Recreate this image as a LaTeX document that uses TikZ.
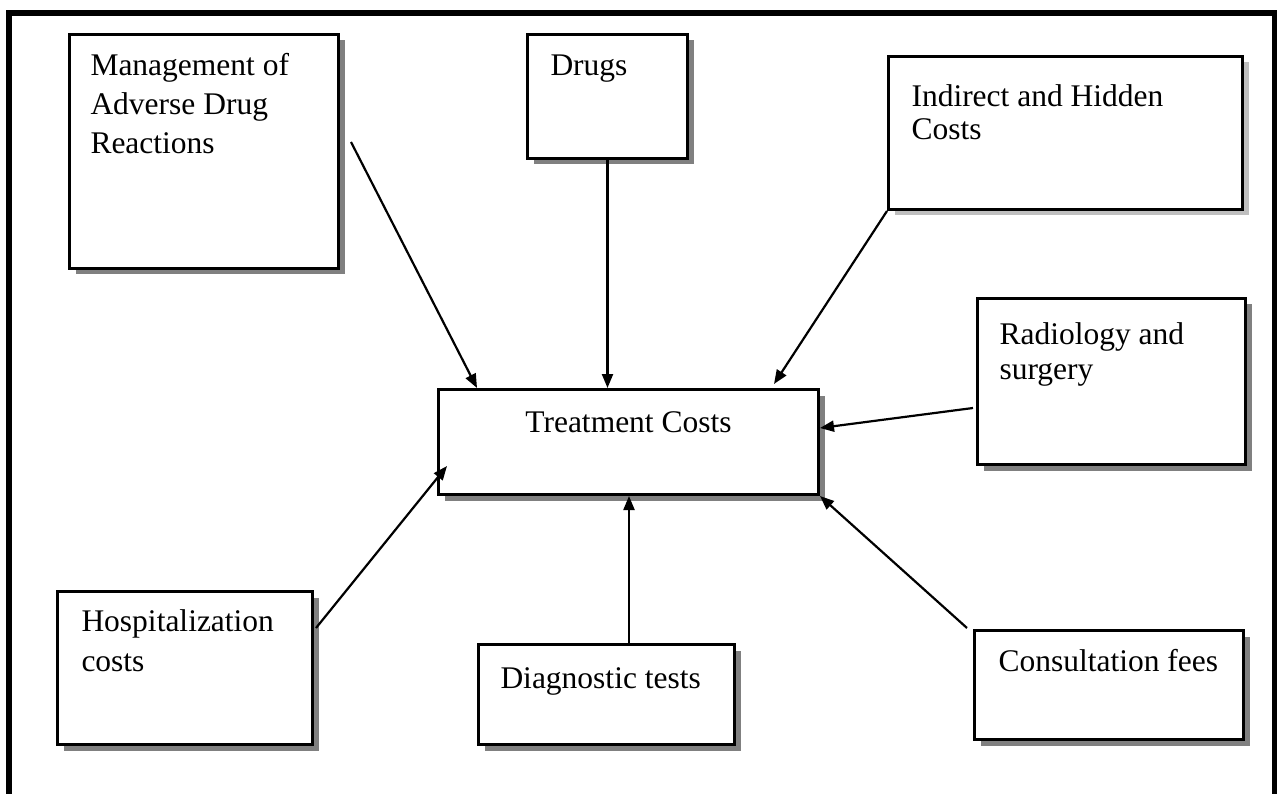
\documentclass[tikz,border=0pt]{standalone}
\usepackage{fontspec}
\setmainfont{Liberation Serif}
\usetikzlibrary{arrows.meta,shadows,calc}
\newcommand\bt[6]{\parbox[c][#2][t]{#1}{\fontsize{31.5pt}{#5}\selectfont\raggedright\leftskip=#3\relax\parindent=0pt\rule{0pt}{#4}#6}}
\newcommand\ct[4]{\parbox[c][#2][t]{#1}{\fontsize{31.5pt}{36pt}\selectfont\centering\rule{0pt}{#3}#4}}
\begin{document}
\begin{tikzpicture}[x=1pt,y=-1pt,
  costbox/.style={draw=black,line width=3pt,fill=white,inner sep=0pt,anchor=north west,
    drop shadow={shadow xshift=6pt,shadow yshift=-6pt,fill=black!50,opacity=1}},
  lightbox/.style={costbox,drop shadow={shadow xshift=6pt,shadow yshift=-6pt,fill=black!25,opacity=1}},
  arr/.style={line width=2.2pt,-{Triangle[length=14pt,width=11pt]}}]
\useasboundingbox (0,0) rectangle (1277,794);
\fill[white] (0,0) rectangle (1277,794);
\begin{scope}
\clip (0,0) rectangle (1277,794);
\draw[line width=6pt] (9,13) rectangle (1275,810);
\end{scope}
% boxes
\node[costbox] (mgmt) at (68,33) {\bt{269pt}{234pt}{21pt}{41pt}{39pt}{Management of\\Adverse Drug\\Reactions}};
\node[costbox] (drugs) at (526,33) {\bt{160pt}{124pt}{23pt}{41pt}{39pt}{Drugs}};
\node[lightbox] (ind) at (887,55) {\bt{354pt}{153pt}{23pt}{50pt}{33pt}{Indirect and Hidden\\Costs}};
\node[costbox] (rad) at (976,297) {\bt{268pt}{166pt}{22pt}{46pt}{35pt}{Radiology and\\surgery}};
\node[costbox] (tmt) at (437,388) {\ct{380pt}{105pt}{43pt}{Treatment Costs}};
\node[costbox] (hosp) at (56,590) {\bt{255pt}{153pt}{24pt}{40pt}{40pt}{Hospitalization\\costs}};
\node[costbox] (diag) at (477,643) {\bt{256pt}{100pt}{22pt}{44pt}{39pt}{Diagnostic tests}};
\node[costbox] (cons) at (973,629) {\bt{269pt}{109pt}{24pt}{41pt}{39pt}{Consultation fees}};
% connectors
\draw[arr] ($(mgmt.north east)+(11,109)$) -- ($(tmt.north west)+(40,0)$);
\draw[arr] (drugs.south) -- (drugs.south |- tmt.north);
\draw[arr] (ind.south west) -- ($(tmt.north east)+(-46,-4)$);
\draw[arr] ($(rad.south west)+(-3,-58)$) -- ($(tmt.north east)+(0,40)$);
\draw[arr] ($(cons.north west)+(-6,-1)$) -- (tmt.south east);
\draw[arr] ($(diag.north west)+(152,0)$) -- ($(tmt.south west)+(192,0)$);
\draw[arr] ($(hosp.north east)+(2,38)$) -- ($(tmt.south west)+(10,-30)$);
\end{tikzpicture}
\end{document}
